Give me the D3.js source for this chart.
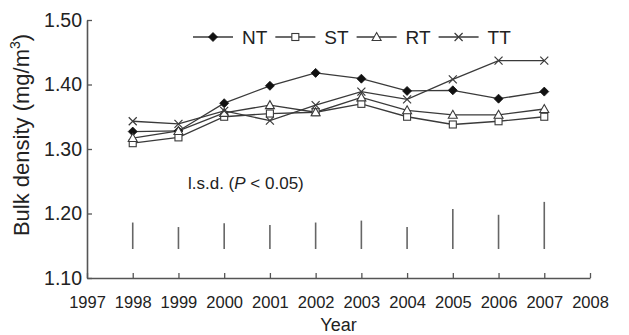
<!DOCTYPE html>
<html><head><meta charset="utf-8">
<script src="https://cdn.jsdelivr.net/npm/d3@7"></script>
<style>
body{margin:0;background:#fff;}
svg{display:block;font-family:"Liberation Sans",Arial,Helvetica,sans-serif;}
</style></head>
<body><svg id="c" width="629" height="335"></svg>
<script>
const years = [1998,1999,2000,2001,2002,2003,2004,2005,2006,2007];
const NT = [1.327,1.328,1.371,1.398,1.418,1.409,1.390,1.391,1.378,1.389];
const ST = [1.309,1.318,1.350,1.355,1.357,1.370,1.350,1.338,1.343,1.350];
const RT = [1.317,1.328,1.356,1.368,1.357,1.380,1.360,1.353,1.353,1.362];
const TT = [1.343,1.339,1.359,1.344,1.368,1.389,1.377,1.408,1.437,1.437];
const lsdBase = 1.145;
const lsdTop = [1.186,1.179,1.185,1.182,1.186,1.189,1.179,1.207,1.198,1.218];
const xTicks = [1997,1998,1999,2000,2001,2002,2003,2004,2005,2006,2007,2008];
const yTicks = [1.10,1.20,1.30,1.40,1.50];
const seriesNames = ["NT","ST","RT","TT"];
const seriesData = [NT,ST,RT,TT];

const svg = d3.select("#c");
const x = d3.scaleLinear().domain([1997,2008]).range([87,590]);
const y = d3.scaleLinear().domain([1.10,1.50]).range([278,20]);
const ink = "#222", lineCol = "#3a3a3a", axisCol = "#555";

// axes
const gx = svg.append("g").attr("transform",`translate(0,${y(1.10)})`)
  .call(d3.axisBottom(x).tickValues(xTicks).tickFormat(d3.format("d")).tickSizeInner(-5).tickSizeOuter(0).tickPadding(18));
gx.select(".domain").attr("stroke",axisCol).attr("stroke-width",1.6);
gx.selectAll(".tick line").attr("stroke",axisCol).attr("stroke-width",1.3);
gx.selectAll("text").attr("font-size",16.5).attr("fill",ink).attr("font-family","inherit");

const gy = svg.append("g").attr("transform",`translate(${x(1997)},0)`)
  .call(d3.axisLeft(y).tickValues(yTicks).tickFormat(d3.format(".2f")).tickSizeInner(-5).tickSizeOuter(0).tickPadding(5));
gy.select(".domain").attr("stroke",axisCol).attr("stroke-width",1.6);
gy.selectAll(".tick line").attr("stroke",axisCol).attr("stroke-width",1.3);
gy.selectAll("text").attr("font-size",19.5).attr("fill",ink).attr("font-family","inherit");

// titles
svg.append("text").attr("x",(x(1997)+x(2008))/2).attr("y",331).attr("text-anchor","middle")
  .attr("font-size",18).attr("fill",ink).text("Year");
const yt = svg.append("text").attr("transform",`translate(28.5,${135}) rotate(-90)`).attr("text-anchor","middle")
  .attr("font-size",22).attr("fill",ink);
yt.append("tspan").text("Bulk density (mg/m");
yt.append("tspan").attr("font-size",14).attr("dy",-9).text("3");
yt.append("tspan").attr("dy",9).text(")");

// lsd bars
svg.append("g").selectAll("line").data(years).join("line")
  .attr("x1",(d)=>x(d)).attr("x2",(d)=>x(d))
  .attr("y1",y(lsdBase)).attr("y2",(d,i)=>y(lsdTop[i]))
  .attr("stroke","#666").attr("stroke-width",1.6);
const lt = svg.append("text").attr("x",188).attr("y",189).attr("font-size",17).attr("fill",ink);
lt.append("tspan").text("l.s.d. (");
lt.append("tspan").attr("font-style","italic").text("P");
lt.append("tspan").text(" < 0.05)");

// markers
function drawMarker(g, name){
  if(name==="NT"){
    g.append("path").attr("d","M0,-4.5L4.5,0L0,4.5L-4.5,0Z").attr("fill","#111").attr("stroke","#111").attr("stroke-width",0.8);
  } else if(name==="ST"){
    g.append("rect").attr("x",-3.5).attr("y",-3.5).attr("width",7).attr("height",7).attr("fill","#fff").attr("stroke",lineCol).attr("stroke-width",1.1);
  } else if(name==="RT"){
    g.append("path").attr("d","M0,-4.5L4.5,3.5L-4.5,3.5Z").attr("fill","#fff").attr("stroke",lineCol).attr("stroke-width",1.1);
  } else {
    g.append("path").attr("d","M-4,-4L4,4M-4,4L4,-4").attr("fill","none").attr("stroke",lineCol).attr("stroke-width",1.2);
  }
}

const line = d3.line().x((d,i)=>x(years[i])).y(d=>y(d));
seriesData.forEach((vals,si)=>{
  svg.append("path").datum(vals).attr("d",line).attr("fill","none").attr("stroke",lineCol).attr("stroke-width",1.3);
});
seriesData.forEach((vals,si)=>{
  vals.forEach((v,i)=>{
    const g = svg.append("g").attr("transform",`translate(${x(years[i])},${y(v)})`);
    drawMarker(g, seriesNames[si]);
  });
});

// legend
let lx = 193; const ly = 37;
seriesNames.forEach(name=>{
  svg.append("line").attr("x1",lx).attr("x2",lx+40).attr("y1",ly).attr("y2",ly).attr("stroke",lineCol).attr("stroke-width",1.3);
  drawMarker(svg.append("g").attr("transform",`translate(${lx+20},${ly})`), name);
  const t = svg.append("text").attr("x",lx+49).attr("y",ly+7).attr("font-size",19).attr("fill",ink).text(name);
  lx = lx + 49 + t.node().getComputedTextLength() + 8;
});
</script></body></html>
